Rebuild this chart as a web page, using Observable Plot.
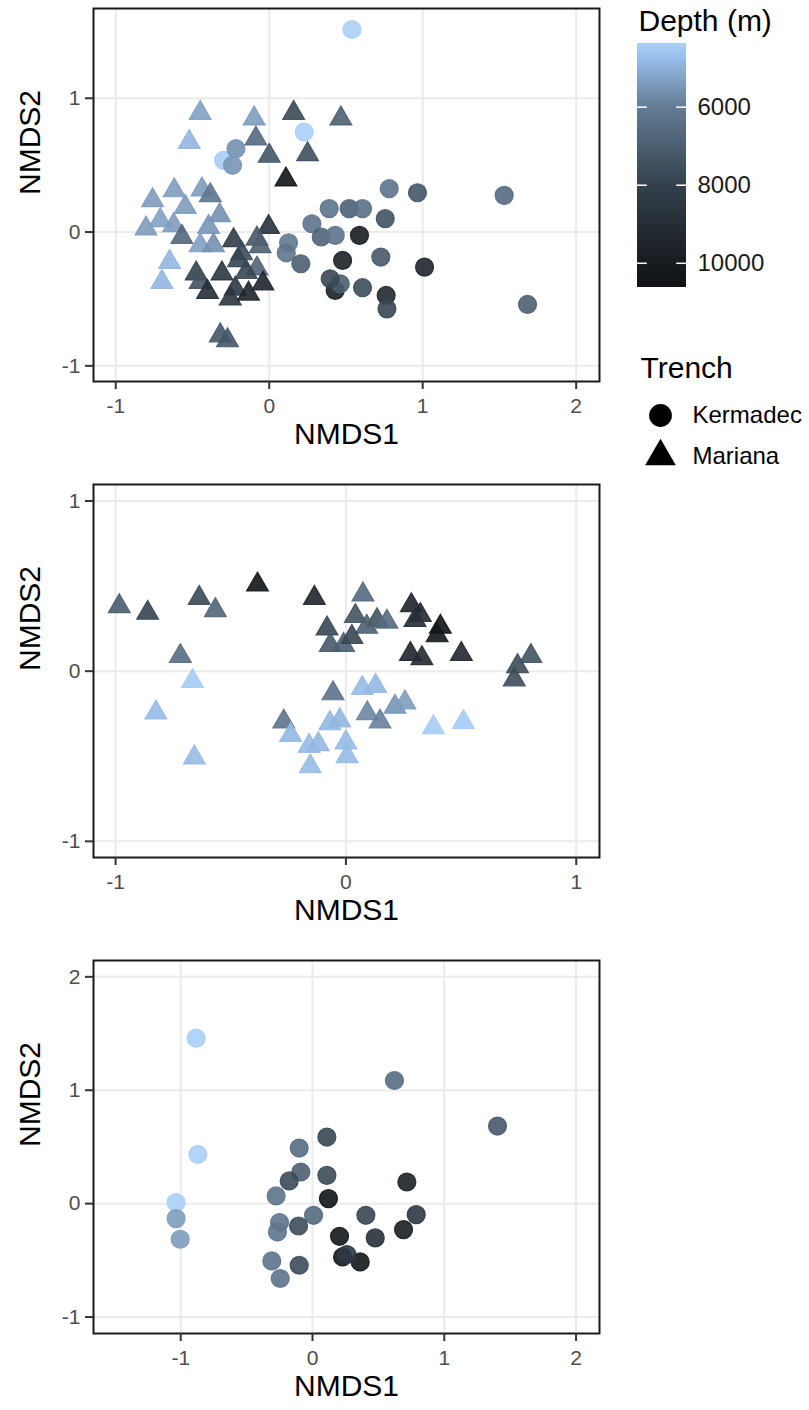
<!DOCTYPE html>
<html><head><meta charset="utf-8">
<script src="https://cdn.jsdelivr.net/npm/d3@7"></script>
<script src="https://cdn.jsdelivr.net/npm/@observablehq/plot@0.6"></script>
<style>
body{margin:0;background:#fff;}
#wrap{position:relative;width:809px;height:1410px;overflow:hidden;background:#fff;}
#wrap svg{position:absolute;overflow:visible;}
</style></head><body><div id="wrap"></div>
<script>
// ---------- data ----------
const p1KermX = [-0.297, 0.539, 0.228, -0.217, -0.239, 0.782, 0.966, 1.531, 0.391, 0.521, 0.608, 0.756, 0.278, 0.339, 0.430, 0.588, 0.126, 0.111, 0.206, 0.478, 0.727, 1.012, 0.430, 0.463, 0.397, 0.608, 0.762, 0.767, 1.683];
const p1KermY = [0.536, 1.514, 0.748, 0.623, 0.499, 0.324, 0.294, 0.274, 0.175, 0.175, 0.175, 0.100, 0.062, -0.037, -0.025, -0.025, -0.080, -0.155, -0.237, -0.212, -0.187, -0.262, -0.436, -0.387, -0.349, -0.416, -0.474, -0.574, -0.541];
const p1KermDepth = [4450, 4400, 4400, 5600, 5500, 6300, 7300, 6600, 6300, 6900, 6400, 7400, 6300, 6800, 6300, 9900, 6100, 6200, 7000, 9700, 7200, 9500, 9700, 7000, 7800, 7600, 9300, 7800, 7000];

const p1MarX = [-0.450, -0.098, 0.159, 0.467, -0.521, -0.087, 0.000, 0.250, 0.109, -0.619, -0.438, -0.760, -0.384, -0.547, -0.710, -0.803, -0.623, -0.323, -0.395, -0.569, -0.450, -0.363, -0.232, -0.004, -0.080, -0.059, -0.180, -0.200, -0.080, -0.649, -0.699, -0.476, -0.450, -0.308, -0.402, -0.221, -0.254, -0.135, -0.041, -0.150, -0.319, -0.272];
const p1MarY = [0.890, 0.848, 0.890, 0.848, 0.673, 0.698, 0.569, 0.581, 0.392, 0.311, 0.317, 0.237, 0.274, 0.187, 0.087, 0.025, 0.050, 0.125, 0.037, -0.037, -0.100, -0.100, -0.062, 0.037, -0.050, -0.107, -0.160, -0.212, -0.274, -0.224, -0.374, -0.311, -0.374, -0.311, -0.449, -0.424, -0.498, -0.461, -0.386, -0.300, -0.773, -0.810];
const p1MarDepth = [5300, 5400, 7700, 7000, 4900, 6600, 7300, 7500, 10400, 5400, 5400, 5400, 6200, 5400, 5300, 5400, 5400, 5600, 5500, 6700, 5300, 5600, 8200, 8800, 7200, 7000, 7600, 7900, 6800, 4900, 4900, 8000, 7400, 8600, 9000, 8400, 8600, 9600, 9400, 7800, 7300, 7300];

const p2MarX = [-0.984, -0.861, -0.637, -0.567, -0.384, -0.137, 0.074, 0.041, 0.135, 0.178, 0.090, -0.082, -0.068, -0.010, 0.026, 0.284, 0.323, 0.300, 0.410, 0.396, 0.280, 0.330, 0.501, 0.803, 0.745, 0.731, -0.719, -0.666, -0.825, -0.658, -0.056, 0.071, 0.129, 0.213, 0.256, 0.093, 0.148, -0.270, -0.240, -0.070, -0.027, 0.380, 0.510, -0.160, -0.120, 0.000, 0.005, -0.155];
const p2MarY = [0.381, 0.342, 0.430, 0.358, 0.508, 0.430, 0.450, 0.323, 0.299, 0.290, 0.260, 0.250, 0.153, 0.153, 0.200, 0.387, 0.329, 0.300, 0.260, 0.210, 0.100, 0.075, 0.100, 0.088, 0.029, -0.049, 0.088, -0.059, -0.244, -0.508, -0.131, -0.100, -0.088, -0.210, -0.184, -0.248, -0.297, -0.297, -0.375, -0.306, -0.290, -0.330, -0.300, -0.440, -0.430, -0.420, -0.500, -0.560];
const p2MarDepth = [7100, 7900, 7700, 6800, 10400, 9400, 6600, 7400, 7400, 6600, 7000, 7800, 7200, 7000, 7800, 9400, 9200, 9000, 10500, 10300, 9400, 9200, 9300, 7400, 7600, 7600, 6500, 4450, 4800, 4800, 6300, 4800, 4850, 5500, 5400, 5800, 5900, 6300, 4850, 4850, 4900, 4450, 4450, 4800, 4850, 4800, 4800, 4800];

const p3KermX = [-0.883, -0.870, -1.035, -1.035, -1.004, 0.622, 1.404, 0.109, -0.101, -0.089, -0.177, 0.109, -0.276, 0.121, 0.716, 0.008, -0.250, -0.266, -0.106, 0.405, 0.787, 0.691, 0.205, 0.476, -0.309, -0.101, -0.245, 0.228, 0.362, 0.261];
const p3KermY = [1.459, 0.434, 0.009, -0.132, -0.314, 1.086, 0.684, 0.587, 0.490, 0.279, 0.200, 0.249, 0.068, 0.044, 0.191, -0.103, -0.167, -0.249, -0.197, -0.103, -0.097, -0.229, -0.288, -0.302, -0.505, -0.543, -0.660, -0.470, -0.514, -0.449];
const p3KermDepth = [4400, 4400, 4400, 5400, 5400, 6500, 7200, 7800, 6500, 7000, 7700, 7700, 6300, 10500, 9700, 6600, 6200, 6200, 7600, 7800, 8400, 9800, 10300, 8800, 6300, 7600, 6300, 10300, 10300, 8400];

const trenchNames = ["Kermadec", "Mariana"];
const depthTicks = [6000, 8000, 10000];
const depthRange = [4370, 10620];
const colorStops = [4370, 4800, 6000, 8000, 10000, 10620];
const colorHex = ["#aad0f8", "#96bbe6", "#637c94", "#34414d", "#171b1f", "#101214"];

const FONT = '"Liberation Sans", Arial, Helvetica, sans-serif';
const colorOpts = {type: "linear", domain: colorStops, range: colorHex, interpolate: "rgb"};
const fmt = d => String(d);

const wrap = document.getElementById("wrap");
function place(svg, left, top) {
  svg.style.left = left + "px";
  svg.style.top = top + "px";
  wrap.appendChild(svg);
}
function rows(xs, ys, ds) { return xs.map((x, i) => ({x, y: ys[i], depth: ds[i]})); }

function panel({kerm, mar, xDomain, yDomain, xTicks, yTicks}) {
  const marks = [
    Plot.gridX(xTicks, {stroke: "#ebebeb", strokeOpacity: 1, strokeWidth: 2}),
    Plot.gridY(yTicks, {stroke: "#ebebeb", strokeOpacity: 1, strokeWidth: 2})
  ];
  if (kerm) marks.push(Plot.dot(kerm, {x: "x", y: "y", fill: "depth", stroke: "depth", strokeWidth: 1.2, r: 9, symbol: "circle", fillOpacity: 0.9, strokeOpacity: 0.9}));
  if (mar) marks.push(Plot.dot(mar, {x: "x", y: "y", fill: "depth", stroke: "depth", strokeWidth: 1.2, r: 8.1, symbol: "triangle", fillOpacity: 0.9, strokeOpacity: 0.9}));
  marks.push(
    Plot.frame({stroke: "#1a1a1a", strokeWidth: 2}),
    Plot.axisX(xTicks, {tickSize: 8, tickPadding: 9, fontSize: 21, tickFormat: fmt, stroke: "#333", strokeWidth: 2, fill: "#4d4d4d", label: null}),
    Plot.axisY(yTicks, {tickSize: 8, tickPadding: 5, fontSize: 21, tickFormat: fmt, stroke: "#333", strokeWidth: 2, fill: "#4d4d4d", label: null}),
    Plot.text(["NMDS1"], {text: d => d, frameAnchor: "bottom", dy: 62, fontSize: 30, fill: "#000"}),
    Plot.text(["NMDS2"], {text: d => d, frameAnchor: "left", dx: -63, rotate: -90, fontSize: 30, fill: "#000"})
  );
  return Plot.plot({
    width: 620, height: 460, marginLeft: 93, marginRight: 21, marginTop: 8, marginBottom: 79,
    style: {fontFamily: FONT, fontSize: "21px", background: "transparent"},
    x: {domain: xDomain}, y: {domain: yDomain},
    color: colorOpts,
    marks
  });
}

place(panel({kerm: rows(p1KermX, p1KermY, p1KermDepth), mar: rows(p1MarX, p1MarY, p1MarDepth),
  xDomain: [-1.145, 2.152], yDomain: [-1.117, 1.671], xTicks: [-1, 0, 1, 2], yTicks: [-1, 0, 1]}), 0, 0);
place(panel({mar: rows(p2MarX, p2MarY, p2MarDepth),
  xDomain: [-1.096, 1.101], yDomain: [-1.095, 1.097], xTicks: [-1, 0, 1], yTicks: [-1, 0, 1]}), 0, 476);
place(panel({kerm: rows(p3KermX, p3KermY, p3KermDepth),
  xDomain: [-1.662, 2.178], yDomain: [-1.145, 2.144], xTicks: [-1, 0, 1, 2], yTicks: [-1, 0, 1, 2]}), 0, 952);

// colour bar legend
const ramp = d3.range(depthRange[0], depthRange[1], 20);
place(Plot.plot({
  width: 209, height: 300, marginLeft: 37, marginRight: 123, marginTop: 43, marginBottom: 13,
  style: {fontFamily: FONT, fontSize: "24px", background: "transparent"},
  x: {domain: [0, 1], axis: null},
  y: {domain: depthRange, reverse: true},
  color: colorOpts,
  marks: [
    Plot.rect(ramp, {x1: 0, x2: 1, y1: d => d, y2: d => Math.min(d + 45, depthRange[1]), fill: d => d, shapeRendering: "crispEdges"}),
    Plot.ruleY(depthTicks, {x1: 0, x2: 0.2, stroke: "#fff", strokeWidth: 1.5}),
    Plot.ruleY(depthTicks, {x1: 0.8, x2: 1, stroke: "#fff", strokeWidth: 1.5}),
    Plot.axisY(depthTicks, {anchor: "right", tickSize: 0, tickPadding: 11, fontSize: 24, tickFormat: fmt, fill: "#1a1a1a", label: null}),
    Plot.text(["Depth (m)"], {text: d => d, frameAnchor: "top-left", dx: 1, dy: -13, lineAnchor: "bottom", textAnchor: "start", fontSize: 30, fill: "#000"})
  ]
}), 600, 0);

// trench (shape) legend
place(Plot.plot({
  width: 209, height: 140, marginLeft: 0, marginRight: 0, marginTop: 0, marginBottom: 0,
  style: {fontFamily: FONT, fontSize: "24px", background: "transparent"},
  y: {type: "point", domain: trenchNames, range: [75, 116], padding: 0, axis: null},
  symbol: {domain: trenchNames, range: ["circle", "triangle"]},
  marks: [
    Plot.text(["Trench"], {text: d => d, frameAnchor: "top-left", dx: 40, dy: 37, lineAnchor: "bottom", textAnchor: "start", fontSize: 30, fill: "#000"}),
    Plot.dot(trenchNames, {y: d => d, symbol: d => d, frameAnchor: "left", dx: 60, r: 11.4, fill: "#000"}),
    Plot.text(trenchNames, {y: d => d, text: d => d, frameAnchor: "left", dx: 92, textAnchor: "start", fontSize: 24, fill: "#000"})
  ]
}), 600, 340);
</script>
</body></html>
